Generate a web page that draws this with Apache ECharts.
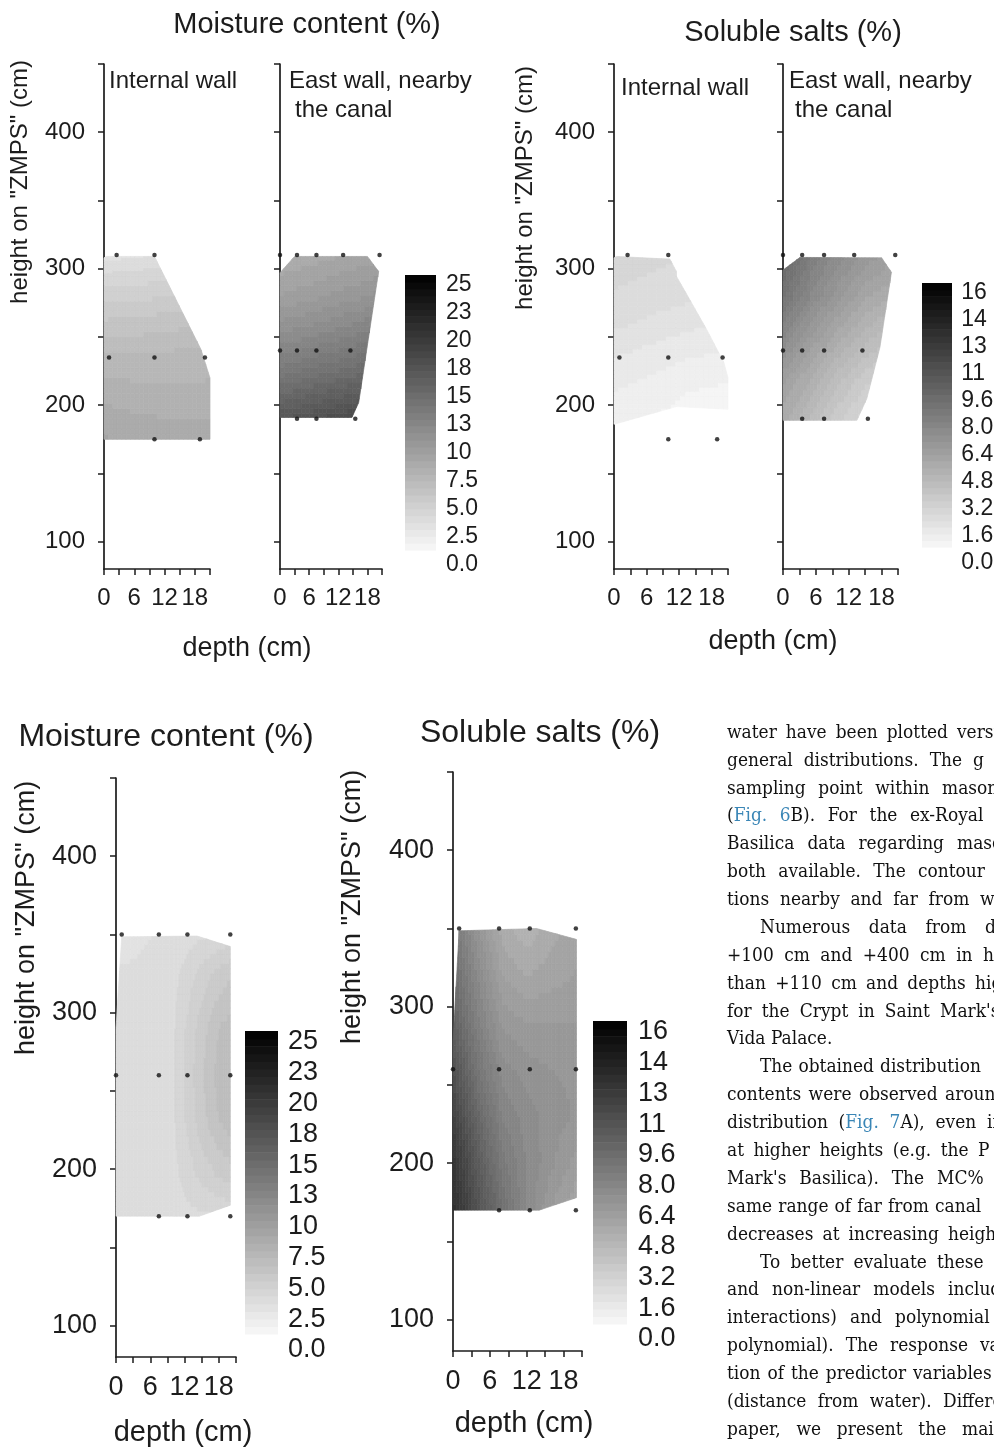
<!DOCTYPE html>
<html>
<head>
<meta charset="utf-8">
<script src="https://cdn.jsdelivr.net/npm/echarts@6/dist/echarts.min.js"></script>
<style>
  html, body { margin: 0; padding: 0; background: #ffffff; }
  #chart { width: 994px; height: 1449px; }
</style>
</head>
<body>
<div id="chart"></div>
<script>
// ---------------- tick labels ----------------
const depthTickLabels = ['0', '6', '12', '18'];
const heightTickValues = [100, 150, 200, 250, 300, 350, 400, 450];
const heightLabelValues = [100, 200, 300, 400];
const moistureBarLabels = ['0.0', '2.5', '5.0', '7.5', '10', '13', '15', '18', '20', '23', '25'];
const saltBarLabels = ['0.0', '1.6', '3.2', '4.8', '6.4', '8.0', '9.6', '11', '13', '14', '16'];
const MOISTURE_MAX = 25;
const SALT_MAX = 16;
const BAR_LEVELS = 40;

// ---------------- sampling points (depth cm, height cm) ----------------
const internalPoints = [[2.5, 310], [10, 310], [1, 235], [10, 235], [20, 235], [10, 175], [19, 175]];
const eastPoints = [[0, 310], [3.5, 310], [7.5, 310], [13, 310], [20.5, 310],
                    [0, 240], [3.5, 240], [7.5, 240], [14.5, 240],
                    [3.5, 190], [7.5, 190], [15.5, 190]];
const crossPoints = [[1, 350], [7.5, 350], [12.5, 350], [20, 350],
                     [0, 260], [7.5, 260], [12.5, 260], [20, 260],
                     [7.5, 170], [12.5, 170], [20, 170]];

// ---------------- moisture, internal wall ----------------
const mcInternalDepths = [0, 7, 14, 21];
const mcInternalHeights = [175, 205, 235, 265, 295, 310];
const mcInternalValues = [          // rows: heights, columns: depths
  [8.2, 8.0, 7.9, 7.9],
  [7.4, 7.2, 7.1, 7.1],
  [6.4, 6.4, 6.5, 6.6],
  [4.9, 5.0, 5.2, 5.4],
  [3.3, 3.4, 3.6, 3.8],
  [2.2, 2.4, 2.6, 2.8]
];
const mcInternalOutline = [[[0, 175], [0, 308], [0.5, 309], [10, 309], [19.2, 241], [21, 220], [21, 175]]];

// ---------------- moisture, east wall ----------------
const mcEastDepths = [0, 7, 14, 21];
const mcEastHeights = [190, 220, 250, 280, 310];
const mcEastValues = [
  [16.2, 16.8, 17.4, 18.0],
  [13.2, 13.8, 14.4, 15.0],
  [10.8, 11.3, 11.9, 12.5],
  [8.8, 9.2, 9.7, 10.2],
  [7.5, 7.8, 8.2, 8.5]
];
const mcEastOutline = [[[0, 191], [0, 297], [3, 309], [18, 309], [20.3, 298], [16.2, 202], [14.8, 191]]];

// ---------------- salts, internal wall ----------------
const ssInternalDepths = [0, 7, 14, 21];
const ssInternalHeights = [185, 210, 235, 260, 285, 310];
const ssInternalValues = [
  [0.5, 0.3, 0.2, 0.1],
  [0.8, 0.6, 0.4, 0.3],
  [1.2, 1.0, 0.8, 0.7],
  [1.7, 1.5, 1.3, 1.2],
  [2.0, 1.9, 1.8, 1.7],
  [2.2, 2.1, 2.0, 1.9]
];
const ssInternalOutline = [
  [[0, 186], [0, 308], [0.5, 309], [10.3, 307], [11.5, 297.9], [11.5, 199]],
  [[11.5, 199], [11.5, 297.9], [17, 256], [20, 235], [21, 220], [21, 197]]
];

// ---------------- salts, east wall ----------------
const ssEastDepths = [0, 5, 10, 15, 21];
const ssEastHeights = [185, 220, 250, 280, 310];
const ssEastValues = [
  [4.8, 3.8, 2.8, 2.0, 1.4],
  [5.8, 4.8, 3.8, 3.0, 2.4],
  [7.2, 6.0, 5.0, 4.2, 3.5],
  [8.5, 7.2, 6.2, 5.3, 4.7],
  [9.5, 8.0, 7.0, 6.3, 5.7]
];
const ssEastOutline = [[[0, 189], [0, 299], [3.1, 308.3], [18, 308], [19.8, 297.4], [17.7, 242.4], [15.3, 204.8], [13.5, 189]]];

// ---------------- moisture, cross section ----------------
const mcCrossDepths = [0, 5, 10, 12, 15, 18, 21];
const mcCrossHeights = [170, 195, 230, 260, 290, 325, 350];
const mcCrossValues = [
  [2.7, 2.7, 2.8, 2.9, 3.0, 3.1, 3.2],
  [2.7, 2.8, 2.9, 3.3, 3.9, 4.4, 4.7],
  [2.7, 2.8, 3.0, 3.7, 4.7, 5.6, 6.1],
  [2.7, 2.8, 3.0, 3.8, 4.9, 5.9, 6.4],
  [2.7, 2.8, 3.0, 3.7, 4.7, 5.6, 6.1],
  [2.6, 2.7, 2.9, 3.3, 4.0, 4.6, 5.0],
  [2.0, 2.4, 2.7, 2.8, 3.0, 3.2, 3.4]
];
const mcCrossOutline = [[[0, 170], [0, 290], [1, 348.5], [14.2, 349], [20, 342.3], [20, 177], [14.2, 169.5]]];

// ---------------- salts, cross section ----------------
const ssCrossDepths = [0, 4, 8, 12, 16, 21];
const ssCrossHeights = [170, 200, 230, 260, 290, 320, 350];
const ssCrossValues = [
  [13.0, 10.8, 8.8, 7.2, 6.0, 5.1],
  [12.6, 10.2, 8.2, 7.2, 6.5, 5.7],
  [11.8, 9.4, 7.6, 7.0, 6.6, 6.3],
  [10.8, 8.5, 7.0, 6.6, 6.4, 6.3],
  [9.8, 7.8, 6.3, 6.0, 6.0, 6.0],
  [9.0, 7.2, 5.6, 5.2, 5.4, 5.7],
  [8.5, 6.5, 5.0, 4.5, 5.0, 5.5]
];
const ssCrossOutline = [[[0, 170], [0, 277], [1, 348.5], [13.6, 350], [20.1, 343], [20.1, 178], [14, 170]]];

// ---------------- text column ----------------
const textLines = [
  'water have been plotted versus',
  'general distributions. The g',
  'sampling point within masonry',
  '({l|Fig.} {l|6}B). For the ex-Royal',
  'Basilica data regarding masonry',
  'both available. The contour',
  'tions nearby and far from water',
  'Numerous data from different',
  '+100 cm and +400 cm in height',
  'than +110 cm and depths higher',
  "for the Crypt in Saint Mark's",
  'Vida Palace.',
  'The obtained distribution',
  'contents were observed around',
  'distribution ({l|Fig.} {l|7}A), even if',
  'at higher heights (e.g. the P',
  "Mark's Basilica). The MC%",
  'same range of far from canal',
  'decreases at increasing height',
  'To better evaluate these',
  'and non-linear models including',
  'interactions) and polynomial',
  'polynomial). The response variable',
  'tion of the predictor variables',
  '(distance from water). Different',
  'paper, we present the main'
];
const textIndented = [7, 12, 19];
const textUnjustified = [11];
const textLastWordX = [957, 973, 942, 910, 957, 918, 980, 985, 983, 975, 940, 0,
                       880, 945, 987, 978, 937, 935, 948, 937, 948, 895, 980, 913, 943, 962];

// ---------------- helpers ----------------
const SANS = '"Liberation Sans", Arial, sans-serif';
const SERIF = '"DejaVu Serif", serif';
const INK = '#1c1c1c';

function grayFor(v, max) {
  let k = Math.floor(v / max * BAR_LEVELS);
  k = Math.max(0, Math.min(BAR_LEVELS - 1, k));
  const g = Math.round(248 * (1 - (k + 0.5) / BAR_LEVELS));
  return 'rgb(' + g + ',' + g + ',' + g + ')';
}

// Sutherland-Hodgman clipping of a polygon against a convex polygon
function clipPolygon(subject, clip) {
  let area = 0;
  for (let k = 0; k < clip.length; k++) {
    const a = clip[k], b = clip[(k + 1) % clip.length];
    area += a[0] * b[1] - b[0] * a[1];
  }
  const s = area > 0 ? 1 : -1;
  let out = subject;
  for (let e = 0; e < clip.length && out.length; e++) {
    const A = clip[e], B = clip[(e + 1) % clip.length];
    const side = p => s * ((B[0] - A[0]) * (p[1] - A[1]) - (B[1] - A[1]) * (p[0] - A[0]));
    const input = out;
    out = [];
    for (let k = 0; k < input.length; k++) {
      const P = input[k], Q = input[(k + 1) % input.length];
      const sp = side(P), sq = side(Q);
      if (sp >= 0) {
        out.push(P);
        if (sq < 0) { const t = sp / (sp - sq); out.push([P[0] + (Q[0] - P[0]) * t, P[1] + (Q[1] - P[1]) * t]); }
      } else if (sq >= 0) {
        const t = sp / (sp - sq); out.push([P[0] + (Q[0] - P[0]) * t, P[1] + (Q[1] - P[1]) * t]);
      }
    }
  }
  return out;
}

// filled contour field: each grid cell is shaded bilinearly, quantised to colour-bar levels
function fieldRenderer(f) {
  const nd = f.depths.length;
  const SUB = 8;
  return function (params, api) {
    const idx = params.dataIndex;
    const i = idx % (nd - 1), j = Math.floor(idx / (nd - 1));
    const v00 = f.values[j][i], v10 = f.values[j][i + 1], v01 = f.values[j + 1][i], v11 = f.values[j + 1][i + 1];
    const dA = f.depths[i], dB = f.depths[i + 1], hA = f.heights[j], hB = f.heights[j + 1];
    const children = [];
    for (let a = 0; a < SUB; a++) {
      for (let b = 0; b < SUB; b++) {
        const d0 = dA + (dB - dA) * a / SUB, d1 = dA + (dB - dA) * (a + 1) / SUB;
        const h0 = hA + (hB - hA) * b / SUB, h1 = hA + (hB - hA) * (b + 1) / SUB;
        const u = (a + 0.5) / SUB, w = (b + 0.5) / SUB;
        const v = v00 * (1 - u) * (1 - w) + v10 * u * (1 - w) + v01 * (1 - u) * w + v11 * u * w;
        const color = grayFor(v, f.max);
        const cell = [[d0, h0], [d1, h0], [d1, h1], [d0, h1]];
        for (const part of f.outline) {
          const poly = clipPolygon(cell, part);
          if (poly.length >= 3) {
            children.push({
              type: 'polygon',
              shape: { points: poly.map(p => api.coord(p)) },
              style: { fill: color, stroke: color, lineWidth: 0.7 }
            });
          }
        }
      }
    }
    return { type: 'group', children: children };
  };
}

function barRenderer(max) {
  return function (params, api) {
    const k = api.value(0);
    const lo = max * k / BAR_LEVELS, hi = max * (k + 1) / BAR_LEVELS;
    const p0 = api.coord([0, lo]), p1 = api.coord([1, hi]);
    return {
      type: 'rect',
      shape: { x: p0[0], y: p1[1], width: p1[0] - p0[0], height: p0[1] - p1[1] + 0.6 },
      style: { fill: grayFor((lo + hi) / 2, max) }
    };
  };
}

// ---------------- layout ----------------
const grids = [];
const xAxes = [];
const yAxes = [];
const series = [];

function addPlot(box, showYLabels, fontSize, labelMargins) {
  const g = grids.length;
  grids.push({ left: box[0], top: box[1], width: box[2], height: box[3] });
  xAxes.push({
    gridIndex: g, type: 'value', min: 0, max: 21, interval: 3,
    axisLine: { lineStyle: { color: INK, width: 1.7 } },
    axisTick: { length: 6, lineStyle: { color: INK, width: 1.5 } },
    splitLine: { show: false },
    axisLabel: {
      color: INK, fontFamily: SANS, fontSize: fontSize, margin: labelMargins[0],
      formatter: v => (v % 6 === 0 && v <= 18) ? depthTickLabels[v / 6] : ''
    }
  });
  yAxes.push({
    gridIndex: g, type: 'value', min: 80, max: 450,
    axisLine: { show: true, lineStyle: { color: INK, width: 1.7 } },
    axisTick: { show: true, length: 6, customValues: heightTickValues, lineStyle: { color: INK, width: 1.5 } },
    splitLine: { show: false },
    axisLabel: {
      show: showYLabels, customValues: heightLabelValues,
      color: INK, fontFamily: SANS, fontSize: fontSize, margin: labelMargins[1]
    }
  });
  return g;
}

function addField(g, depths, heights, values, outline, max, points) {
  const f = { depths, heights, values, outline, max };
  const cells = [];
  for (let j = 0; j < heights.length - 1; j++) {
    for (let i = 0; i < depths.length - 1; i++) cells.push([depths[i], heights[j], values[j][i]]);
  }
  series.push({
    type: 'custom', coordinateSystem: 'cartesian2d', xAxisIndex: g, yAxisIndex: g,
    encode: { x: 0, y: 1 }, data: cells, renderItem: fieldRenderer(f), silent: true, z: 1
  });
  series.push({
    type: 'scatter', xAxisIndex: g, yAxisIndex: g, data: points,
    symbolSize: 4.5, itemStyle: { color: '#111' }, silent: true, z: 3
  });
}

function addColorBar(barBox, labelBox, max, labels, fontSize) {
  const g = grids.length;
  grids.push({ left: barBox[0], top: barBox[1], width: barBox[2], height: barBox[3] });
  xAxes.push({ gridIndex: g, type: 'value', min: 0, max: 1, show: false });
  yAxes.push({ gridIndex: g, type: 'value', min: 0, max: max, show: false });
  const levels = [];
  for (let k = 0; k < BAR_LEVELS; k++) levels.push([k]);
  series.push({
    type: 'custom', coordinateSystem: 'cartesian2d', xAxisIndex: g, yAxisIndex: g,
    data: levels, renderItem: barRenderer(max), silent: true
  });
  const h = grids.length;
  grids.push({ left: labelBox[0], top: labelBox[1], width: 1, height: labelBox[2] });
  xAxes.push({ gridIndex: h, type: 'value', min: 0, max: 1, show: false });
  yAxes.push({
    gridIndex: h, type: 'value', min: 0, max: max, interval: max / 10, position: 'right',
    axisLine: { show: false }, axisTick: { show: false }, splitLine: { show: false },
    axisLabel: {
      color: INK, fontFamily: SANS, fontSize: fontSize, margin: 5,
      formatter: v => labels[Math.round(v / (max / 10))]
    }
  });
}

// upper figure
const gA1 = addPlot([104, 64, 106, 505], true, 24, [17, 19]);
addField(gA1, mcInternalDepths, mcInternalHeights, mcInternalValues, mcInternalOutline, MOISTURE_MAX, internalPoints);
const gA2 = addPlot([280, 64, 102, 505], false, 24, [17, 19]);
addField(gA2, mcEastDepths, mcEastHeights, mcEastValues, mcEastOutline, MOISTURE_MAX, eastPoints);
addColorBar([405, 275, 31, 275], [440, 285, 280], MOISTURE_MAX, moistureBarLabels, 23);

const gB1 = addPlot([614, 64, 114, 505], true, 24, [17, 19]);
addField(gB1, ssInternalDepths, ssInternalHeights, ssInternalValues, ssInternalOutline, SALT_MAX, internalPoints);
const gB2 = addPlot([783, 64, 115, 505], false, 24, [17, 19]);
addField(gB2, ssEastDepths, ssEastHeights, ssEastValues, ssEastOutline, SALT_MAX, eastPoints);
addColorBar([922, 283, 30, 264], [956, 293, 270], SALT_MAX, saltBarLabels, 23);

// lower figure
const gC1 = addPlot([116, 778, 120, 579], true, 27, [17, 19]);
addField(gC1, mcCrossDepths, mcCrossHeights, mcCrossValues, mcCrossOutline, MOISTURE_MAX, crossPoints);
addColorBar([245, 1031, 33, 303], [282, 1042, 308], MOISTURE_MAX, moistureBarLabels, 27);

const gC2 = addPlot([453, 772, 129, 579], true, 27, [17, 19]);
addField(gC2, ssCrossDepths, ssCrossHeights, ssCrossValues, ssCrossOutline, SALT_MAX, crossPoints);
addColorBar([593, 1021, 34, 303], [632, 1032, 307], SALT_MAX, saltBarLabels, 27);

// ---------------- text elements ----------------
const graphics = [];
function label(text, x, y, size, opts) {
  opts = opts || {};
  graphics.push({
    type: 'text', x: x, y: y, rotation: opts.rotation || 0, scaleX: opts.scaleX || 1, silent: true,
    style: {
      text: text, fill: opts.color || INK,
      font: size + 'px ' + (opts.family || SANS),
      textAlign: opts.align || 'center', textVerticalAlign: 'middle',
      align: opts.align || 'center', verticalAlign: 'middle'
    }
  });
}

label('Moisture content (%)', 307, 25, 29);
label('Soluble salts (%)', 793, 33, 29);
label('Moisture content (%)', 166, 737, 32);
label('Soluble salts (%)', 540, 733, 32);

label('height on "ZMPS" (cm)', 20, 182, 24, { rotation: Math.PI / 2 });
label('height on "ZMPS" (cm)', 525, 188, 24, { rotation: Math.PI / 2 });
label('height on "ZMPS" (cm)', 27, 918, 27, { rotation: Math.PI / 2 });
label('height on "ZMPS" (cm)', 353, 907, 27, { rotation: Math.PI / 2 });

label('depth (cm)', 247, 649, 27);
label('depth (cm)', 773, 642, 27);
label('depth (cm)', 183, 1433, 29);
label('depth (cm)', 524, 1424, 29);

label('Internal wall', 109, 81, 24, { align: 'left' });
label('East wall, nearby', 289, 81, 24, { align: 'left' });
label('the canal', 295, 110, 24, { align: 'left' });
label('Internal wall', 621, 88, 24, { align: 'left' });
label('East wall, nearby', 789, 81, 24, { align: 'left' });
label('the canal', 795, 110, 24, { align: 'left' });

// justified body text, one word (or word piece) per text element
(function () {
  const FONT_SIZE = 18.5;
  const SQUEEZE = 0.92;
  const LINK = '#3a86b6';
  const ctx = document.createElement('canvas').getContext('2d');
  ctx.font = FONT_SIZE + 'px ' + SERIF;
  const measure = t => ctx.measureText(t).width * SQUEEZE;
  const pieces = word => {
    const out = [];
    const re = /\{l\|([^}]*)\}|([^{]+)/g;
    let m;
    while ((m = re.exec(word))) out.push(m[1] !== undefined ? { t: m[1], link: true } : { t: m[2], link: false });
    return out;
  };
  const width = word => pieces(word).reduce((s, p) => s + measure(p.t), 0);
  textLines.forEach((line, k) => {
    const y = 733 + 27.88 * k;
    const x0 = textIndented.includes(k) ? 760 : 727;
    const words = line.split(' ');
    let gap = measure(' ');
    if (!textUnjustified.includes(k) && words.length > 1) {
      let used = 0;
      for (let w = 0; w < words.length - 1; w++) used += width(words[w]);
      gap = (textLastWordX[k] - x0 - used) / (words.length - 1);
    }
    let x = x0;
    words.forEach(word => {
      pieces(word).forEach(p => {
        label(p.t, x, y, FONT_SIZE, { align: 'left', family: SERIF, color: p.link ? LINK : '#111', scaleX: SQUEEZE });
        x += measure(p.t);
      });
      x += gap;
    });
  });
})();

const chart = echarts.init(document.getElementById('chart'), null, { renderer: 'canvas' });
chart.setOption({
  animation: false,
  backgroundColor: '#ffffff',
  grid: grids,
  xAxis: xAxes,
  yAxis: yAxes,
  series: series,
  graphic: { elements: graphics }
});
</script>
</body>
</html>
